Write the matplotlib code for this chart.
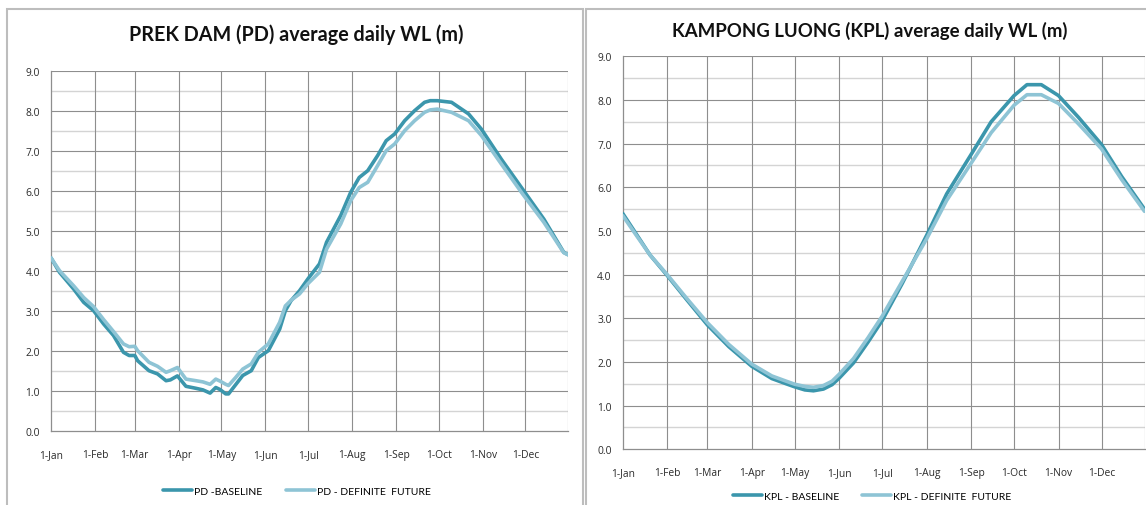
import matplotlib
matplotlib.use("Agg")
import matplotlib.pyplot as plt
from matplotlib.patches import Rectangle

plt.rcParams['font.family'] = ['Lato', 'DejaVu Sans']

# ---------------- data ----------------
month_days = [1, 32, 60, 91, 121, 152, 182, 213, 244, 274, 305, 335]
month_labels = ['1-Jan', '1-Feb', '1-Mar', '1-Apr', '1-May', '1-Jun',
                '1-Jul', '1-Aug', '1-Sep', '1-Oct', '1-Nov', '1-Dec']
y_ticks = [0, 1, 2, 3, 4, 5, 6, 7, 8, 9]

pd_days = [1, 7, 17, 24, 31, 38, 45, 52, 56, 60, 62, 70, 76, 82, 85, 90, 96,
           103, 108, 113, 117, 120, 124, 126, 131, 136, 142, 147, 154, 162,
           166, 170, 176, 182, 190, 195, 205, 212, 218, 224, 231, 237, 243,
           250, 257, 264, 268, 273, 283, 295, 304, 318, 333, 348, 362, 365]
pd_baseline = [4.32, 3.96, 3.54, 3.21, 3.00, 2.67, 2.38, 1.96, 1.88, 1.88,
               1.75, 1.50, 1.42, 1.25, 1.27, 1.37, 1.11, 1.06, 1.02, 0.94,
               1.08, 1.03, 0.92, 0.92, 1.15, 1.38, 1.50, 1.83, 2.00, 2.54,
               3.00, 3.25, 3.50, 3.80, 4.17, 4.71, 5.38, 5.96, 6.33, 6.50,
               6.88, 7.25, 7.42, 7.75, 8.00, 8.21, 8.25, 8.25, 8.21, 7.92,
               7.54, 6.79, 6.04, 5.29, 4.46, 4.40]
pd_future = [4.32, 4.00, 3.62, 3.33, 3.10, 2.78, 2.48, 2.17, 2.10, 2.11,
             2.00, 1.71, 1.61, 1.46, 1.50, 1.58, 1.29, 1.25, 1.22, 1.16,
             1.29, 1.24, 1.16, 1.13, 1.33, 1.54, 1.67, 1.96, 2.17, 2.71,
             3.12, 3.26, 3.42, 3.68, 3.96, 4.54, 5.17, 5.75, 6.08, 6.21,
             6.63, 7.00, 7.17, 7.50, 7.75, 7.96, 8.02, 8.04, 7.96, 7.75,
             7.38, 6.67, 5.92, 5.21, 4.45, 4.40]

kpl_days = [1, 10, 20, 32, 45, 60, 75, 91, 105, 115, 121, 128, 134, 141, 147,
            152, 162, 172, 182, 196, 213, 227, 244, 258, 274, 283, 293, 305,
            319, 335, 349, 365]
kpl_baseline = [5.40, 4.95, 4.45, 3.98, 3.45, 2.85, 2.35, 1.90, 1.62, 1.50,
                1.43, 1.36, 1.34, 1.38, 1.48, 1.63, 1.98, 2.45, 2.95, 3.80,
                4.90, 5.85, 6.75, 7.50, 8.10, 8.35, 8.35, 8.10, 7.60, 6.98,
                6.25, 5.50]
kpl_future = [5.35, 4.92, 4.45, 4.00, 3.48, 2.90, 2.40, 1.95, 1.68, 1.56,
              1.49, 1.44, 1.42, 1.46, 1.56, 1.72, 2.08, 2.55, 3.05, 3.85,
              4.82, 5.70, 6.55, 7.25, 7.88, 8.12, 8.12, 7.92, 7.45, 6.88,
              6.18, 5.45]

titles = ['PREK DAM (PD) average daily WL (m)',
          'KAMPONG LUONG (KPL) average daily WL (m)']
legend_labels = [['PD -BASELINE', 'PD - DEFINITE  FUTURE'],
                 ['KPL - BASELINE', 'KPL - DEFINITE  FUTURE']]

# ---------------- style ----------------
C_BASE = '#3b96ac'
C_FUT = '#8ec4d5'
GRID_DARK = '#8e8e8e'
GRID_LIGHT = '#d4d4d4'

W, H = 1146, 506
fig = plt.figure(figsize=(W / 100, H / 100), dpi=100)

# panel frames
for (x0, x1) in [(7, 583), (586, 1160)]:
    fig.patches.append(Rectangle((x0 / W, -0.1), (x1 - x0) / W, (H - 10) / H + 0.1,
                                 transform=fig.transFigure, fill=False,
                                 edgecolor='#bdbdbd', linewidth=1.5))

ax_pos = [
    (51, 568, 71.7, 431.7),
    (622.8, 1144.5, 57.3, 450.3),
]
series = [(pd_days, pd_baseline, pd_future), (kpl_days, kpl_baseline, kpl_future)]
title_pos = [(296, 35), (870, 31)]
title_size = [14.2, 13.4]
legend_pos = [(297, 492), (872, 497)]

for i in range(2):
    x0, x1, yt, yb = ax_pos[i]
    ax = fig.add_axes([x0 / W, 1 - yb / H, (x1 - x0) / W, (yb - yt) / H])
    days, base, fut = series[i]
    ax.set_xlim(1, 365)
    ax.set_ylim(0, 9)
    # grid
    for y in [0.5 + k for k in range(9)]:
        ax.axhline(y, color=GRID_LIGHT, lw=1.0, zorder=1)
    for y in y_ticks[1:]:
        ax.axhline(y, color=GRID_DARK, lw=0.8, zorder=1)
    for d in month_days[1:]:
        ax.axvline(d, color=GRID_DARK, lw=0.8, zorder=1)
    ax.axvline(365, color=GRID_DARK, lw=0.8, zorder=1)
    l1, = ax.plot(days, base, color=C_BASE, lw=2.6, zorder=3,
                  solid_capstyle='round', solid_joinstyle='round')
    l2, = ax.plot(days, fut, color=C_FUT, lw=2.6, zorder=3,
                  solid_capstyle='round', solid_joinstyle='round')
    ax.set_xticks(month_days)
    ax.set_xticklabels(month_labels, family=['Open Sans', 'DejaVu Sans'])
    ax.set_yticks(y_ticks)
    ax.set_yticklabels([f'{v:.1f}' for v in y_ticks], family=['Open Sans', 'DejaVu Sans'])
    ax.tick_params(axis='x', length=0, pad=13, labelsize=7.4, colors='#2a2a2a')
    ax.tick_params(axis='y', length=0, pad=8, labelsize=7.4, colors='#2a2a2a')
    for s in ['top', 'right']:
        ax.spines[s].set_visible(False)
    for s in ['left', 'bottom']:
        ax.spines[s].set_color(GRID_DARK)
        ax.spines[s].set_linewidth(0.9)
    tx, ty = title_pos[i]
    fig.text(tx / W, 1 - ty / H, titles[i], ha='center', va='center',
             fontsize=title_size[i], fontweight='bold', color='#111111')
    lx, ly = legend_pos[i]
    fig.legend([l1, l2], legend_labels[i], loc='center',
               bbox_to_anchor=(lx / W, 1 - ly / H), ncol=2, frameon=False,
               fontsize=7.5, handlelength=2.8, columnspacing=2.2, handletextpad=0.2)

fig.savefig('out.png', dpi=100)
